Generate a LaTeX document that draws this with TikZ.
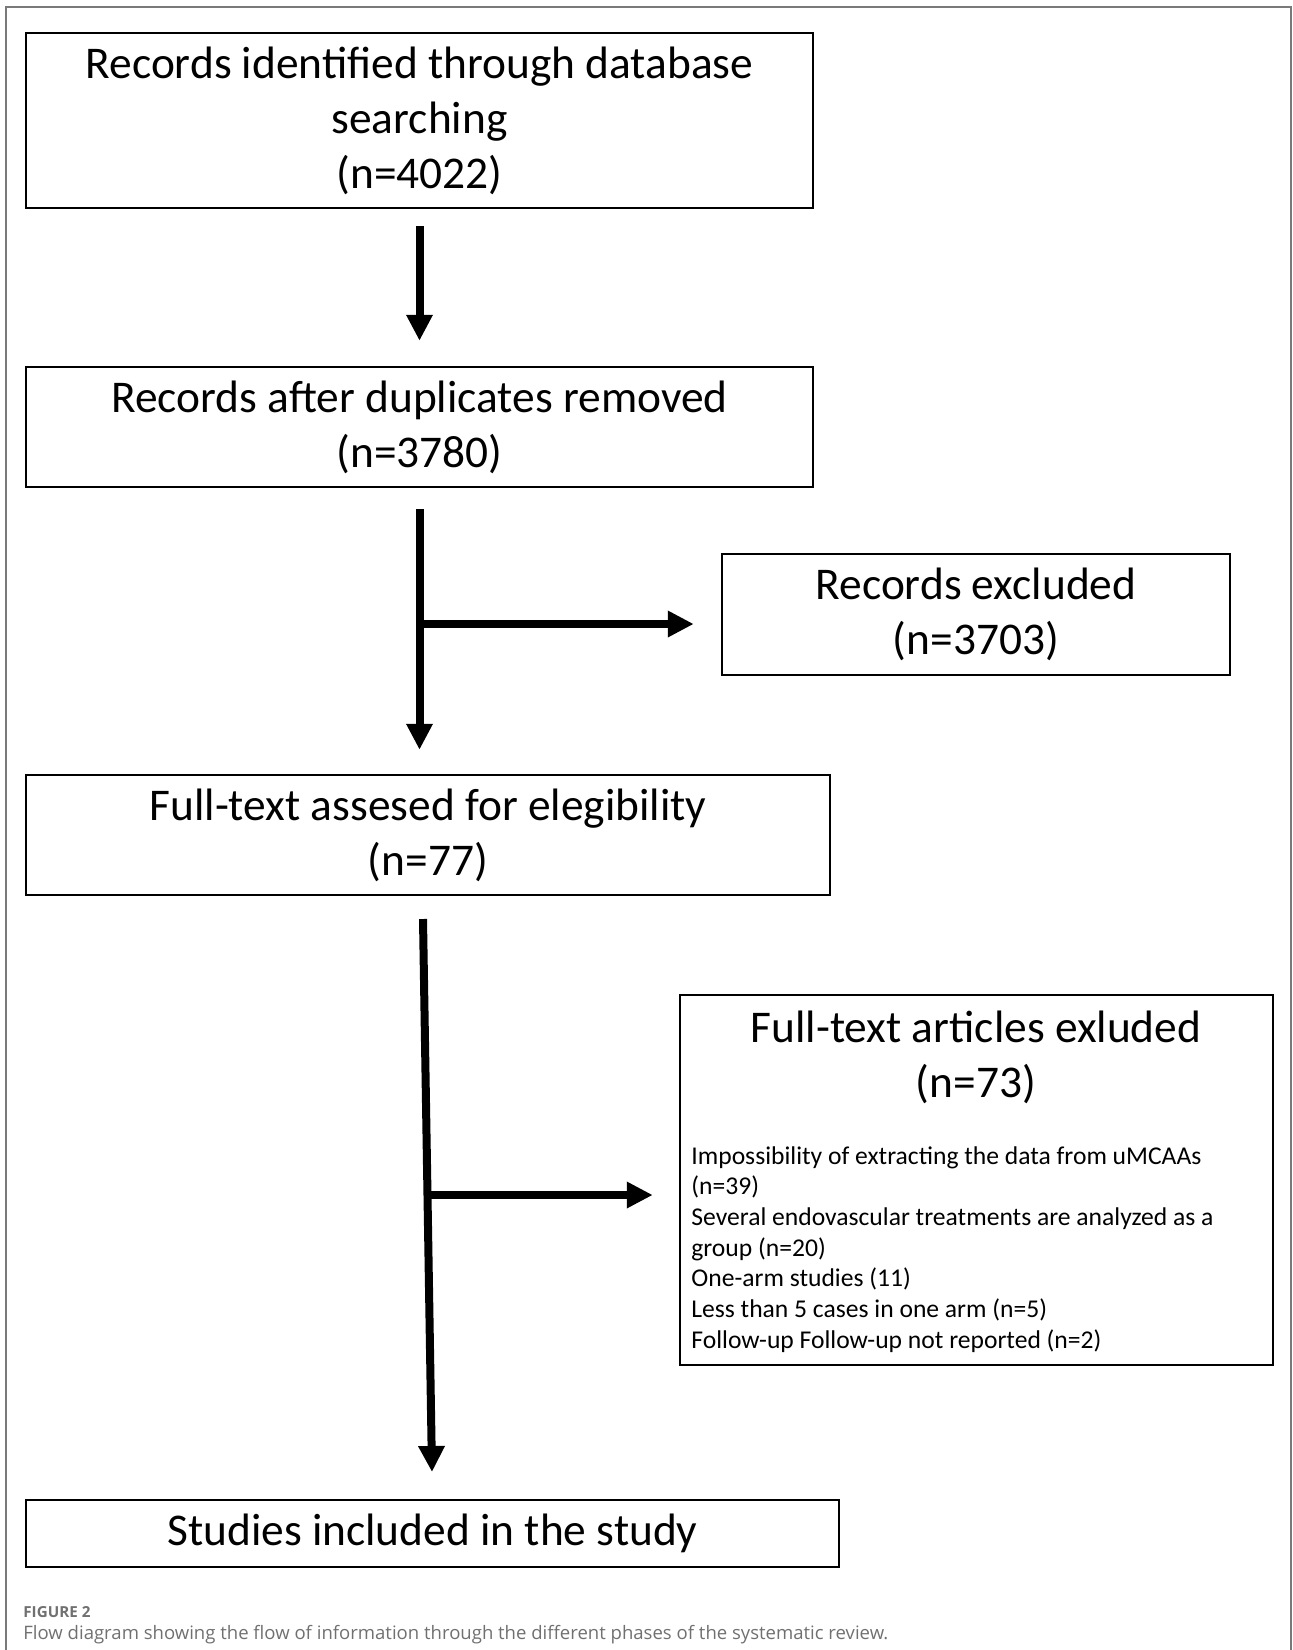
\documentclass[tikz,border=0pt]{standalone}
\usepackage{fontspec}
\setmainfont{Carlito}
\newfontfamily\capfont{Open Sans}
\usetikzlibrary{arrows.meta}
\definecolor{framegray}{HTML}{7A7A7A}
\definecolor{capgray}{HTML}{707070}
\tikzset{
  box/.style={draw=black, line width=1.25pt, inner sep=0pt, align=center,
    font=\fontsize{22.7}{27.5}\selectfont},
  arr/.style={line width=4pt, -{Triangle[length=13pt,width=12.5pt]}},
  listtext/.style={inner sep=0pt, align=left, font=\fontsize{12.8}{15.35}\selectfont},
  captext/.style={anchor=west, inner sep=0pt, text=capgray},
}
\begin{document}
\begin{tikzpicture}[x=0.5pt,y=-0.5pt]
\useasboundingbox (0,0) rectangle (1292,1650);
% outer frame
\draw[framegray, line width=1pt] (6,1650) -- (6,7) -- (1290.5,7) -- (1290.5,1650);

% boxes
\node[box, minimum width=393.5pt, minimum height=87.5pt] (b1) at (419.5,120.5)
  {Records identified through database\\searching\\(n=4022)};
\node[box, minimum width=393.5pt, minimum height=60pt] (b2) at (419.5,427)
  {Records after duplicates removed\\(n=3780)};
\node[box, minimum width=254pt, minimum height=60.5pt] (b3) at (976,614.5)
  {Records excluded\\(n=3703)};
\node[box, minimum width=402pt, minimum height=60pt] (b4) at (428,835)
  {Full-text assesed for elegibility\\(n=77)};
\node[box, minimum width=296.5pt, minimum height=185pt] (b5) at (976.5,1180) {};
\node[inner sep=0pt, align=center, font=\fontsize{22.7}{27.5}\selectfont] (b5t) at (976,1057)
  {Full-text articles exluded\\(n=73)};
\node[listtext, anchor=north west] (b5l) at (691,1146)
  {Impossibility of extracting the data from uMCAAs\\
   (n=39)\\
   Several endovascular treatments are analyzed as a\\
   group (n=20)\\
   One-arm studies (11)\\
   Less than 5 cases in one arm (n=5)\\
   Follow-up Follow-up not reported (n=2)};
\node[box, minimum width=406.5pt, minimum height=33.5pt] (b6) at (432.5,1533.5)
  {Studies included in the study};

% connectors
\draw[arr, shorten <=8.5pt, shorten >=12.5pt] (b1.south) -- (b2.north);
\draw[arr, shorten <=10.5pt, shorten >=12pt] (b2.south) -- (b2.south |- b4.north);
\coordinate (j1) at (419.5,624);
\draw[arr, shorten >=13.5pt] (j1) -- (j1 -| b3.west);
\coordinate (a3s) at (423,919);
\coordinate (a3e) at (432,1472);
\draw[arr] (a3s) -- (a3e);
\coordinate (j2) at (429,1195);
\draw[arr, shorten >=13pt] (j2) -- (j2 -| b5.west);

% caption
\node[captext, font=\capfont\bfseries\fontsize{7.6}{9}\selectfont] (cap1) at (23,1612) {FIGURE 2};
\node[captext, font=\capfont\fontsize{9.27}{11}\selectfont] (cap2) at (23,1635)
  {Flow diagram showing the flow of information through the different phases of the systematic review.};
\end{tikzpicture}
\end{document}
